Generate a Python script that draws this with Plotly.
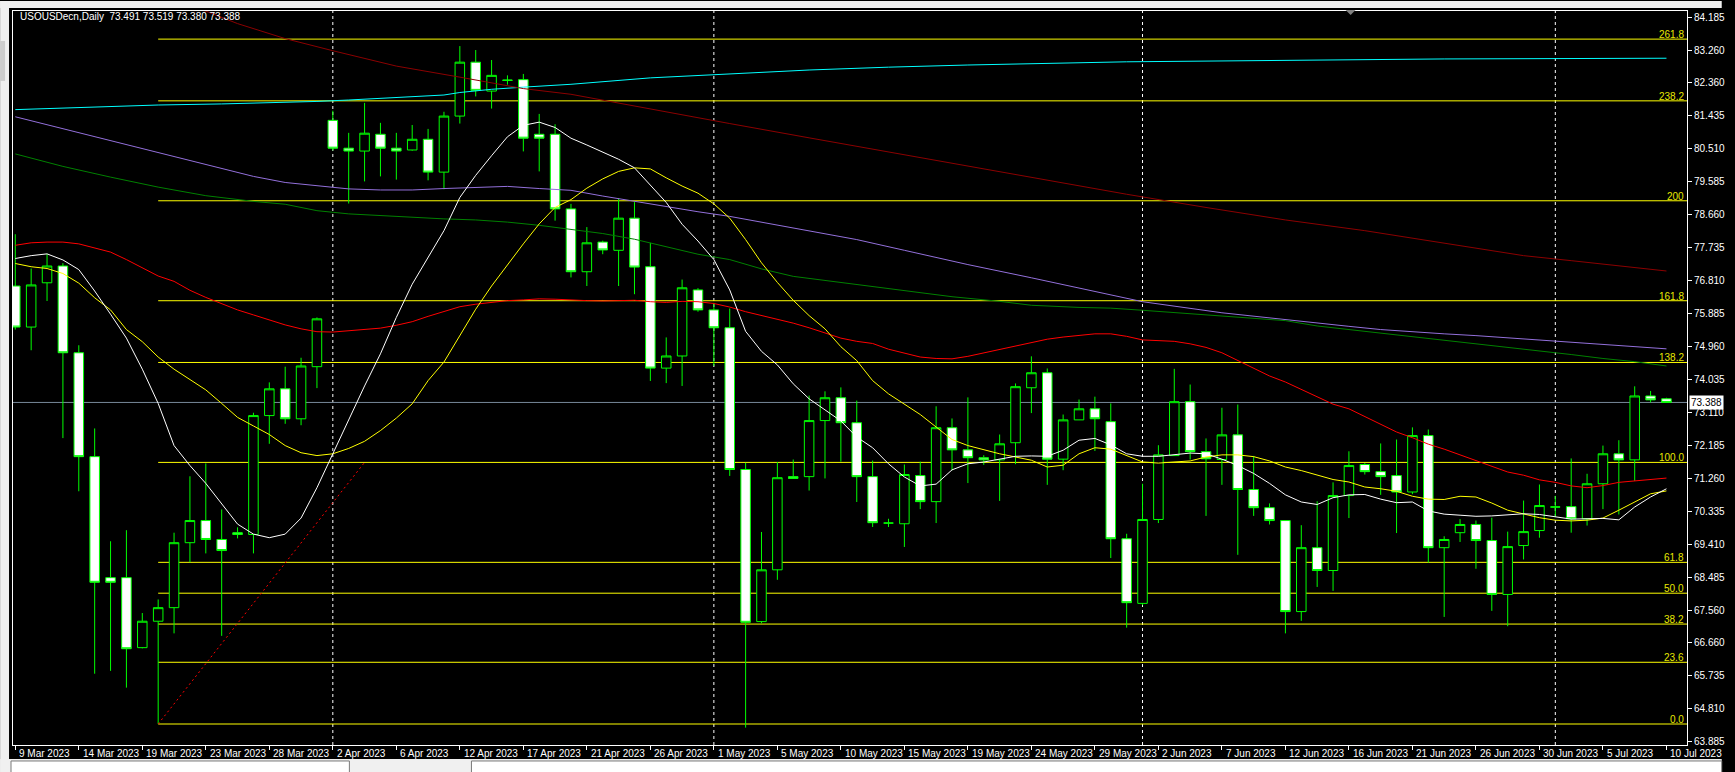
import plotly.graph_objects as go

# ---------------- data ----------------
chart_title = "USOUSDecn,Daily  73.491 73.519 73.380 73.388"

bar_open = [76.65, 75.50, 76.74, 77.21, 74.78, 71.87, 68.48, 68.48, 66.52, 67.26,
            67.64, 69.46, 70.08, 69.55, 69.74, 69.69, 73.02, 73.77, 72.93, 74.39,
            81.29, 80.51, 80.43, 80.90, 80.51, 80.46, 80.76, 79.84, 81.41, 82.92,
            82.11, 82.42, 82.43, 80.90, 80.90, 78.81, 77.05, 77.88, 77.65, 78.55,
            77.19, 74.35, 74.69, 76.54, 75.98, 75.48, 71.51, 67.25, 68.70, 71.31,
            71.31, 72.88, 73.52, 72.82, 71.31, 70.01, 69.99, 71.34, 70.61, 72.68,
            72.06, 71.84, 71.78, 72.26, 73.80, 74.22, 71.80, 72.90, 73.21, 72.85,
            69.57, 67.76, 70.11, 71.90, 73.41, 72.01, 71.79, 72.48, 70.95, 70.44,
            70.08, 67.53, 69.32, 68.68, 70.78, 71.65, 71.45, 71.34, 70.88, 72.46,
            69.32, 69.74, 69.97, 69.52, 68.01, 69.38, 69.80, 70.46, 70.47, 70.13,
            71.11, 71.95, 71.78, 73.57, 73.491]
bar_high = [78.10, 77.14, 77.55, 77.29, 74.99, 72.66, 69.50, 69.81, 67.49, 67.87,
            69.74, 71.32, 71.68, 70.39, 69.89, 73.10, 73.95, 74.39, 74.64, 75.77,
            81.56, 80.94, 81.78, 81.22, 80.94, 81.16, 81.05, 81.53, 83.37, 83.26,
            82.98, 82.55, 82.59, 81.47, 81.18, 78.95, 78.30, 77.92, 79.11, 79.00,
            77.86, 75.21, 76.83, 76.59, 76.18, 76.02, 71.70, 69.76, 71.72, 71.79,
            73.58, 73.70, 73.81, 73.44, 71.76, 70.13, 71.65, 71.73, 73.28, 72.94,
            73.53, 71.91, 72.49, 73.92, 74.68, 74.34, 73.05, 73.47, 73.55, 73.36,
            69.71, 71.11, 72.19, 74.33, 73.89, 72.38, 73.24, 73.33, 71.89, 70.56,
            70.08, 69.95, 70.62, 71.15, 72.02, 71.69, 72.24, 72.35, 72.69, 72.63,
            69.64, 70.12, 70.08, 70.16, 69.77, 70.64, 71.09, 70.77, 71.82, 71.39,
            72.18, 72.33, 73.84, 73.71, 73.519]
bar_low = [75.43, 74.85, 76.23, 72.39, 70.90, 65.79, 65.87, 65.40, 66.50, 64.38,
           66.92, 68.91, 69.16, 66.85, 69.58, 69.16, 72.23, 72.79, 72.75, 73.79,
           80.45, 78.96, 79.58, 79.72, 79.63, 80.44, 79.61, 79.36, 81.20, 81.96,
           81.62, 82.29, 80.42, 79.86, 78.48, 76.89, 76.65, 77.54, 76.65, 76.42,
           73.99, 73.93, 73.85, 75.93, 74.41, 71.33, 64.28, 67.20, 68.42, 71.26,
           70.92, 71.26, 71.73, 70.60, 69.90, 69.90, 69.34, 70.40, 70.01, 71.49,
           71.13, 71.64, 70.63, 71.66, 73.09, 71.08, 71.49, 72.90, 72.03, 69.03,
           67.08, 67.71, 70.01, 71.89, 71.79, 70.21, 71.08, 69.12, 70.21, 69.97,
           66.92, 67.27, 68.22, 68.11, 70.15, 71.37, 70.80, 69.73, 70.82, 68.90,
           67.38, 69.48, 68.73, 67.55, 67.12, 68.99, 69.60, 70.18, 69.74, 69.94,
           70.40, 70.25, 71.19, 73.39, 73.380]
bar_close = [75.50, 76.68, 77.21, 74.78, 71.87, 68.35, 68.35, 66.49, 67.26, 67.64,
             69.46, 70.08, 69.55, 69.24, 69.69, 73.02, 73.77, 72.93, 74.41, 75.73,
             80.51, 80.43, 80.93, 80.51, 80.43, 80.76, 79.84, 81.41, 82.92, 82.13,
             82.55, 82.41, 80.79, 80.79, 78.81, 77.05, 77.86, 77.66, 78.55, 77.18,
             74.35, 74.69, 76.60, 75.98, 75.48, 71.51, 67.23, 68.70, 71.28, 71.26,
             72.88, 73.52, 72.82, 71.31, 70.02, 70.01, 71.37, 70.61, 72.68, 72.06,
             71.84, 71.78, 72.23, 73.83, 74.22, 71.80, 72.90, 73.21, 72.93, 69.57,
             67.78, 70.11, 71.92, 73.41, 72.01, 71.81, 72.48, 70.95, 70.44, 70.08,
             67.53, 69.32, 68.68, 70.78, 71.62, 71.45, 71.31, 70.88, 72.46, 69.32,
             69.55, 69.97, 69.52, 68.01, 69.35, 69.77, 70.50, 70.46, 70.13, 71.11,
             71.95, 71.78, 73.57, 73.46, 73.388]
bar_idx = list(range(len(bar_open)))

date_label_idx = [0, 4, 8, 12, 16, 20, 24, 28, 32, 36, 40, 44, 48, 52, 56, 60,
                  64, 68, 72, 76, 80, 84, 88, 92, 96, 100, 104]
date_labels = ["9 Mar 2023", "14 Mar 2023", "19 Mar 2023", "23 Mar 2023", "28 Mar 2023",
               "2 Apr 2023", "6 Apr 2023", "12 Apr 2023", "17 Apr 2023", "21 Apr 2023",
               "26 Apr 2023", "1 May 2023", "5 May 2023", "10 May 2023", "15 May 2023",
               "19 May 2023", "24 May 2023", "29 May 2023", "2 Jun 2023", "7 Jun 2023",
               "12 Jun 2023", "16 Jun 2023", "21 Jun 2023", "26 Jun 2023", "30 Jun 2023",
               "5 Jul 2023", "10 Jul 2023"]
month_sep_idx = [20, 44, 71, 97]

price_ticks = [84.185, 83.260, 82.360, 81.435, 80.510, 79.585, 78.660, 77.735,
               76.810, 75.885, 74.960, 74.035, 73.110, 72.185, 71.260, 70.335,
               69.410, 68.485, 67.560, 66.660, 65.735, 64.810, 63.885]

ma_white = [77.42, 77.50, 77.55, 77.38, 77.11, 76.51, 75.86, 75.19, 74.32, 73.36,
            72.18, 71.62, 71.12, 70.56, 69.98, 69.70, 69.60, 69.70, 70.15, 71.00,
            71.95, 72.90, 73.85, 74.75, 75.77, 76.70, 77.45, 78.20, 79.13, 79.75,
            80.30, 80.83, 81.15, 81.24, 81.09, 80.79, 80.60, 80.40, 80.20, 79.96,
            79.49, 78.99, 78.38, 77.91, 77.39, 76.54, 75.38, 74.82, 74.44, 73.91,
            73.49, 73.19, 72.87, 72.42, 72.12, 71.67, 71.30, 71.05, 71.10, 71.50,
            71.67, 71.72, 71.81, 71.88, 71.89, 71.88, 72.05, 72.33, 72.38, 72.20,
            71.95, 71.88, 71.88, 71.93, 71.97, 71.95, 71.80, 71.62, 71.40, 71.12,
            70.80, 70.60, 70.53, 70.72, 70.80, 70.81, 70.68, 70.58, 70.60, 70.35,
            70.26, 70.23, 70.20, 70.21, 70.24, 70.27, 70.25, 70.18, 70.12, 70.13,
            70.14, 70.10, 70.46, 70.74, 70.97]
ma_yellow = [77.28, 77.19, 77.14, 77.00, 76.73, 76.32, 75.98, 75.43, 75.09, 74.66,
             74.32, 74.03, 73.74, 73.36, 72.97, 72.73, 72.49, 72.18, 71.98, 71.90,
             71.95, 72.10, 72.30, 72.60, 72.95, 73.35, 74.00, 74.52, 75.25, 76.00,
             76.65, 77.25, 77.83, 78.39, 78.85, 79.07, 79.39, 79.65, 79.86, 79.96,
             79.93, 79.68, 79.45, 79.25, 78.95, 78.55, 77.95, 77.30, 76.75, 76.25,
             75.82, 75.45, 74.95, 74.56, 74.00, 73.63, 73.35, 73.05, 72.70, 72.35,
             72.18, 72.06, 71.95, 71.86, 71.77, 71.58, 71.63, 71.95, 72.12, 72.08,
             71.90, 71.72, 71.69, 71.71, 71.75, 71.86, 71.92, 71.92, 71.87, 71.75,
             71.58, 71.48, 71.36, 71.23, 71.16, 71.02, 70.97, 70.90, 70.76, 70.68,
             70.67, 70.76, 70.74, 70.57, 70.37, 70.27, 70.16, 70.09, 70.07, 70.09,
             70.15, 70.37, 70.60, 70.83, 70.91]
ma_red = [77.79, 77.86, 77.88, 77.88, 77.83, 77.72, 77.60, 77.39, 77.15, 76.93,
          76.78, 76.53, 76.33, 76.15, 75.98, 75.84, 75.70, 75.56, 75.45, 75.37,
          75.36, 75.39, 75.43, 75.47, 75.55, 75.65, 75.80, 75.93, 76.07, 76.14,
          76.20, 76.24, 76.26, 76.29, 76.28, 76.25, 76.24, 76.23, 76.24, 76.25,
          76.21, 76.19, 76.22, 76.21, 76.16, 76.06, 75.93, 75.83, 75.72, 75.61,
          75.48, 75.33, 75.19, 75.10, 75.04, 74.88, 74.76, 74.66, 74.62, 74.61,
          74.68, 74.78, 74.88, 74.98, 75.08, 75.16, 75.22, 75.27, 75.31, 75.31,
          75.24, 75.14, 75.13, 75.10, 75.03, 74.93, 74.78, 74.57, 74.35, 74.13,
          73.96, 73.76, 73.54, 73.34, 73.21, 72.99, 72.78, 72.56, 72.40, 72.22,
          72.08, 71.92, 71.75, 71.58, 71.44, 71.35, 71.22, 71.15, 71.05, 71.00,
          71.06, 71.15, 71.19, 71.21, 71.27]

ma_green_idx = [0, 3, 6, 9, 12, 15, 17, 19, 21, 23, 25, 27, 29, 31, 33, 35, 37, 39, 41, 43,
                45, 47, 49, 51, 53, 56, 59, 62, 64, 67, 69, 71, 74, 77, 80, 82, 84, 86, 88, 90,
                92, 94, 96, 98, 100, 102, 104]
ma_green = [80.35, 80.00, 79.70, 79.42, 79.18, 79.02, 78.94, 78.76, 78.67, 78.62,
            78.58, 78.53, 78.50, 78.44, 78.35, 78.23, 78.12, 77.96, 77.76, 77.54,
            77.39, 77.13, 76.92, 76.81, 76.69, 76.52, 76.35, 76.22, 76.11, 76.05,
            76.03, 75.97, 75.87, 75.79, 75.68, 75.53, 75.43, 75.33, 75.24, 75.14,
            75.04, 74.95, 74.85, 74.73, 74.62, 74.53, 74.41]

ma_purple_idx = [0, 4, 8, 12, 15, 17, 19, 21, 23, 25, 27, 29, 31, 33, 35, 37, 39, 41, 43, 45,
                 47, 49, 51, 53, 56, 60, 64, 68, 71, 76, 81, 84, 86, 88, 90, 92, 94, 96, 98, 100,
                 102, 104]
ma_purple = [81.39, 80.95, 80.50, 80.05, 79.72, 79.55, 79.46, 79.37, 79.34, 79.34,
             79.38, 79.42, 79.44, 79.38, 79.33, 79.17, 79.02, 78.86, 78.73, 78.60,
             78.44, 78.28, 78.13, 77.95, 77.65, 77.25, 76.88, 76.50, 76.21, 75.90,
             75.65, 75.52, 75.43, 75.36, 75.31, 75.26, 75.20, 75.14, 75.07, 75.00,
             74.95, 74.89]

ma_darkred_idx = [10, 12, 14, 17, 20, 24, 28, 32, 35, 40, 45, 50, 55, 60, 65, 70, 75, 80,
                  85, 90, 95, 98, 101, 104]
ma_darkred = [84.55, 84.35, 84.00, 83.58, 83.24, 82.81, 82.50, 82.18, 82.02, 81.60,
              81.20, 80.80, 80.40, 80.00, 79.60, 79.22, 78.85, 78.50, 78.20, 77.85,
              77.50, 77.36, 77.22, 77.07]

ma_cyan_idx = [0, 3, 6, 9, 13, 16, 19, 21, 23, 25, 27, 28, 30, 32, 35, 40, 45, 50, 55, 60,
               70, 80, 90, 104]
ma_cyan = [81.59, 81.63, 81.68, 81.72, 81.75, 81.78, 81.82, 81.86, 81.90, 81.95,
           82.00, 82.07, 82.16, 82.22, 82.30, 82.48, 82.60, 82.70, 82.78, 82.84,
           82.93, 82.98, 83.01, 83.03]

fib_start_idx, fib_end_idx = 9, 22
fib_low, fib_high = 64.381, 71.709
fib_levels = [0.0, 23.6, 38.2, 50.0, 61.8, 100.0, 138.2, 161.8, 200.0, 238.2, 261.8]
fib_texts = ["0.0", "23.6", "38.2", "50.0", "61.8", "100.0", "138.2", "161.8", "200", "238.2", "261.8"]

# ---------------- layout geometry ----------------
W, H = 1735, 772
ML, MR, MT, MB = 13, 35, 10, 27
PW, PH = W - ML - MR, H - MT - MB
x_range = [-0.144, 105.294]
y_range = [63.793, 84.353]
FONT = "Liberation Sans, Arial, sans-serif"
FS = 10


def px_x(p):
    return (p - ML) / PW


def px_y(p):
    return (H - MB - p) / PH


fig = go.Figure()

# moving averages (drawn under the candles)
ma_specs = [
    (ma_cyan_idx, ma_cyan, "#00FFFF"),
    (ma_darkred_idx, ma_darkred, "#8B0000"),
    (ma_purple_idx, ma_purple, "#9370DB"),
    (ma_green_idx, ma_green, "#008000"),
    (bar_idx, ma_red, "#FF0000"),
    (bar_idx, ma_yellow, "#FFFF00"),
    (bar_idx, ma_white, "#FFFFFF"),
]
for xs, ys, col in ma_specs:
    fig.add_trace(go.Scatter(x=xs, y=ys, mode="lines", line=dict(color=col, width=1),
                             hoverinfo="skip", showlegend=False))

# fib trend line
fig.add_trace(go.Scatter(x=[fib_start_idx, fib_end_idx], y=[fib_low, fib_high], mode="lines",
                         line=dict(color="#FF0000", width=1, dash="2px,3px"),
                         hoverinfo="skip", showlegend=False))

fig.add_trace(go.Candlestick(
    x=bar_idx, open=bar_open, high=bar_high, low=bar_low, close=bar_close,
    increasing=dict(line=dict(color="#00FF00", width=1), fillcolor="#000000"),
    decreasing=dict(line=dict(color="#00FF00", width=1), fillcolor="#FFFFFF"),
    whiskerwidth=0, hoverinfo="skip", showlegend=False))

shapes = []
annotations = []

# fibonacci levels
fib_span = fib_high - fib_low
for lvl, txt in zip(fib_levels, fib_texts):
    price = fib_low + fib_span * lvl / 100.0
    shapes.append(dict(type="line", xref="x", yref="y", x0=fib_start_idx, x1=x_range[1],
                       y0=price, y1=price, line=dict(color="#FFFF00", width=1), layer="below"))
    annotations.append(dict(xref="paper", yref="y", x=px_x(1699), y=price, text=txt,
                            xanchor="right", yanchor="bottom", yshift=-3, showarrow=False,
                            font=dict(family=FONT, size=FS, color="#E8E800")))

# period separators
for s in month_sep_idx:
    shapes.append(dict(type="line", xref="x", yref="paper", x0=s, x1=s, y0=0, y1=1,
                       line=dict(color="#FFFFFF", width=1, dash="3px,3px"), layer="below"))

# bid line
shapes.append(dict(type="line", xref="paper", yref="y", x0=0, x1=1, y0=bar_close[-1], y1=bar_close[-1],
                   line=dict(color="#778899", width=1), layer="below"))

# window chrome
shapes.append(dict(type="rect", xref="paper", yref="paper", x0=px_x(0), x1=px_x(W), y0=px_y(0), y1=px_y(7),
                   fillcolor="#F0F0F0", line=dict(width=0), layer="above"))
shapes.append(dict(type="rect", xref="paper", yref="paper", x0=px_x(0), x1=px_x(9), y0=px_y(0), y1=px_y(H),
                   fillcolor="#F0F0F0", line=dict(width=0), layer="above"))
shapes.append(dict(type="rect", xref="paper", yref="paper", x0=px_x(0), x1=px_x(5), y0=px_y(40), y1=px_y(80),
                   fillcolor="#CDCDCD", line=dict(width=0), layer="above"))
shapes.append(dict(type="rect", xref="paper", yref="paper", x0=px_x(0), x1=px_x(W), y0=px_y(759), y1=px_y(H),
                   fillcolor="#F0F0F0", line=dict(width=0), layer="above"))
for bx0, bx1 in [(11, 352), (475, W)]:
    shapes.append(dict(type="rect", xref="paper", yref="paper", x0=px_x(bx0), x1=px_x(bx1),
                       y0=px_y(761), y1=px_y(H + 2), fillcolor="#FFFFFF",
                       line=dict(color="#7A7A7A", width=1), layer="above"))
shapes.append(dict(type="path", xref="paper", yref="paper",
                   path=f"M {px_x(1356)},{px_y(9)} L {px_x(1366)},{px_y(9)} L {px_x(1361)},{px_y(14)} Z",
                   fillcolor="#808080", line=dict(width=0), layer="above"))

# date labels (left-aligned at their tick like the terminal)
for i, t in zip(date_label_idx, date_labels):
    annotations.append(dict(xref="x", yref="paper", x=i, y=px_y(753.5), text=t, xanchor="left",
                            yanchor="middle", xshift=2, showarrow=False,
                            font=dict(family=FONT, size=FS, color="#FFFFFF")))

# title
annotations.append(dict(xref="paper", yref="paper", x=px_x(18), y=px_y(16), text=chart_title,
                        xanchor="left", yanchor="middle", showarrow=False,
                        font=dict(family=FONT, size=FS, color="#FFFFFF")))

# current price tag
annotations.append(dict(xref="paper", yref="y", x=px_x(1702), y=bar_close[-1], text=f"{bar_close[-1]:.3f}",
                        xanchor="left", yanchor="middle", showarrow=False, bgcolor="#FFFFFF",
                        borderpad=1, font=dict(family=FONT, size=FS, color="#000000")))

fig.update_layout(
    width=W, height=H,
    margin=dict(l=ML, r=MR, t=MT, b=MB, pad=0),
    paper_bgcolor="#000000", plot_bgcolor="#000000",
    showlegend=False, boxgap=0.4, boxgroupgap=0,
    xaxis=dict(range=x_range, tickmode="array", tickvals=date_label_idx,
               ticktext=[""] * len(date_label_idx), ticks="outside", ticklen=4,
               tickcolor="#FFFFFF", showline=True, linecolor="#FFFFFF", linewidth=1,
               mirror=True, showgrid=False, zeroline=False,
               rangeslider=dict(visible=False), fixedrange=True),
    yaxis=dict(range=y_range, side="right", tickmode="array", tickvals=price_ticks,
               ticktext=[f"{v:.3f}" for v in price_ticks], ticks="outside", ticklen=4,
               tickcolor="#FFFFFF", showline=True, linecolor="#FFFFFF", linewidth=1,
               mirror=True, showgrid=False, zeroline=False, fixedrange=True,
               tickfont=dict(family=FONT, size=FS, color="#FFFFFF")),
    shapes=shapes, annotations=annotations,
)

# remove the default page margin so the figure sits at the window's top-left corner
fig.write_html("out.html", config={"displayModeBar": False},
               post_script="document.body.style.margin='0';document.body.style.background='#000';")
